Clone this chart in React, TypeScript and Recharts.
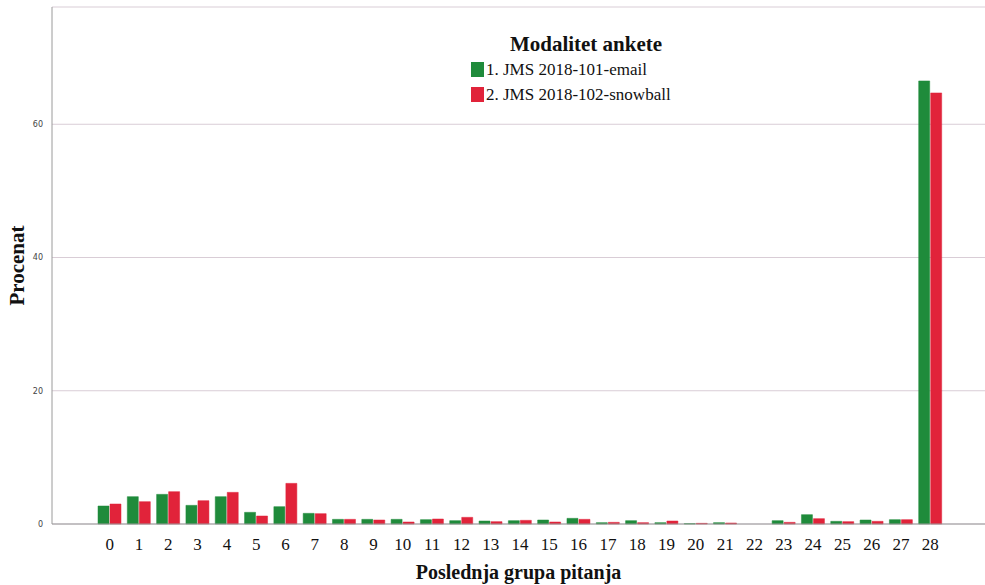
import { BarChart, Bar, XAxis, YAxis, CartesianGrid } from 'recharts'

// Poslednja grupa pitanja 0..28
const categories = ['0', '1', '2', '3', '4', '5', '6', '7', '8', '9', '10', '11', '12', '13', '14', '15', '16', '17', '18', '19', '20', '21', '22', '23', '24', '25', '26', '27', '28']
const emailValues = [2.7, 4.1, 4.45, 2.8, 4.1, 1.75, 2.6, 1.6, 0.7, 0.7, 0.7, 0.65, 0.5, 0.45, 0.5, 0.6, 0.85, 0.2, 0.5, 0.2, 0.05, 0.2, 0, 0.5, 1.4, 0.4, 0.6, 0.65, 66.5]
const snowballValues = [3.0, 3.35, 4.85, 3.5, 4.75, 1.2, 6.1, 1.55, 0.7, 0.6, 0.3, 0.75, 1.0, 0.35, 0.55, 0.3, 0.7, 0.25, 0.2, 0.45, 0.1, 0.15, 0, 0.25, 0.8, 0.35, 0.4, 0.65, 64.7]
const yTicks = [0, 20, 40, 60]

const data = categories.map((c, i) => ({ grupa: c, email: emailValues[i], snowball: snowballValues[i] }))

const serif = '"Liberation Serif", "DejaVu Serif", serif'
const green = '#1f8b3b'
const red = '#e1233a'

// legend drawn as a plain box over the plot (Recharts Legend would shrink the plot)
function LegendBox() {
    return (
        <div style={{ position: 'absolute', left: 471, top: 32, width: 230, fontFamily: serif, color: '#111', lineHeight: '25px' }}>
            <div style={{ fontWeight: 700, fontSize: 21, textAlign: 'center', marginBottom: 0 }}>Modalitet ankete</div>
            <div style={{ display: 'flex', alignItems: 'center', fontSize: 17 }}>
                <span style={{ width: 13, height: 15, background: green, marginRight: 2, display: 'inline-block' }}></span>
                1. JMS 2018-101-email
            </div>
            <div style={{ display: 'flex', alignItems: 'center', fontSize: 17 }}>
                <span style={{ width: 13, height: 15, background: red, marginRight: 2, display: 'inline-block' }}></span>
                2. JMS 2018-102-snowball
            </div>
        </div>
    )
}

export default function App() {
    return (
        <div style={{ position: 'absolute', left: 0, top: 0, width: 985, height: 585, background: '#fff' }}>
            <BarChart
                width={985}
                height={585}
                data={data}
                margin={{ top: 7, right: 0, left: 0, bottom: 0 }}
                barCategoryGap={3}
                barGap={1}
            >
                <CartesianGrid vertical={false} stroke="#d9cdd6" strokeWidth={1} />
                <XAxis
                    dataKey="grupa"
                    height={61}
                    padding={{ left: 43, right: 40 }}
                    stroke="#9a9a9a"
                    tickLine={false}
                    tick={{ fill: '#111', fontSize: 17, fontFamily: serif }}
                    tickMargin={8}
                    interval={0}
                    label={{ value: 'Poslednja grupa pitanja', position: 'insideBottom', offset: 6, fill: '#111', fontSize: 20, fontWeight: 700, fontFamily: serif }}
                />
                <YAxis
                    width={52}
                    domain={[0, 77.6]}
                    ticks={yTicks}
                    stroke="#9a9a9a"
                    tickLine={false}
                    tick={{ fill: '#444', fontSize: 8, fontFamily: '"DejaVu Sans", sans-serif' }}
                    tickMargin={3}
                    label={{ value: 'Procenat', angle: -90, position: 'insideLeft', offset: 17, fill: '#111', fontSize: 21, fontWeight: 700, fontFamily: serif, style: { textAnchor: 'middle' } }}
                />
                <Bar dataKey="email" fill={green} stroke={green} strokeWidth={0.5} isAnimationActive={false} />
                <Bar dataKey="snowball" fill={red} stroke={red} strokeWidth={0.5} isAnimationActive={false} />
            </BarChart>
            <LegendBox />
        </div>
    )
}
